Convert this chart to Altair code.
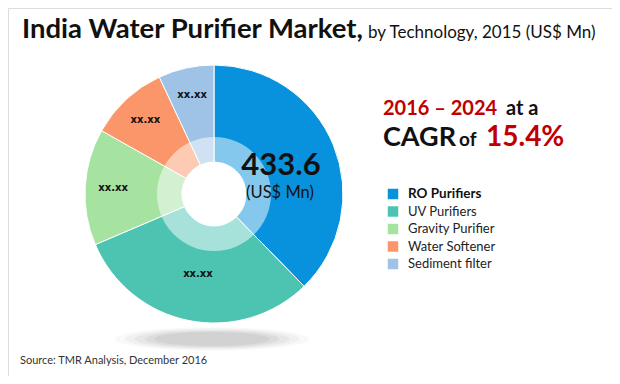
import altair as alt
import pandas as pd

# ---- data ----
segments = ["RO Purifiers", "UV Purifiers", "Gravity Purifier", "Water Softener", "Sediment filter"]
values = [163.4, 134.0, 63.2, 42.8, 30.2]
slice_labels = ["", "xx.xx", "xx.xx", "xx.xx", "xx.xx"]
colors = ["#0891DC", "#4DC4B2", "#A6E2A0", "#FA9669", "#9EC3E6"]
total_text = "433.6"
unit_text = "(US$ Mn)"
title_bold = "India Water Purifier Market,"
title_rest = "by Technology, 2015 (US$ Mn)"
cagr_period = "2016 \u2013 2024"
cagr_value = "15.4%"
source_text = "Source: TMR Analysis, December 2016"

df = pd.DataFrame({"segment": segments, "value": values, "label": slice_labels,
                   "idx": list(range(len(segments)))})
one = pd.DataFrame({"k": [0]})

FONT = "Lato"
RED = "#C00000"
CX, CY = 206, 186  # donut centre in view coordinates

color = alt.Color("segment:N", scale=alt.Scale(domain=segments, range=colors), legend=None)
theta = alt.Theta("value:Q", stack=True)
order = alt.Order("idx:Q")

# soft shadow under the donut
ellipse = "M -1 0 A 1 0.12 0 1 0 1 0 A 1 0.12 0 1 0 -1 0 Z"
shadows = []
for w, op in [(195, 0.05), (175, 0.07), (155, 0.09), (135, 0.11), (115, 0.12)]:
    shadows.append(
        alt.Chart(one).mark_point(shape=ellipse, filled=True, fill="#8a8a8a", opacity=op,
                                  size=w * w, strokeWidth=0)
        .encode(x=alt.value(CX - 2), y=alt.value(331))
    )

arcs = alt.Chart(df).mark_arc(innerRadius=32, outerRadius=129, stroke="white", strokeWidth=1).encode(
    theta=theta, color=color, order=order, x=alt.value(CX), y=alt.value(CY)
)

inner_ring = alt.Chart(one).mark_arc(innerRadius=32, outerRadius=57, theta=0, theta2=6.2832,
                                     color="white", opacity=0.5).encode(
    x=alt.value(CX), y=alt.value(CY)
)

labels = alt.Chart(df).transform_joinaggregate(
    total="sum(value)"
).transform_window(
    cum="sum(value)", sort=[alt.SortField("idx")], frame=[None, 0]
).transform_calculate(
    mid="(datum.cum - datum.value / 2) / datum.total * 2 * PI",
    lr="datum.segment == 'UV Purifiers' ? 82 : 101",
).mark_text(font="DejaVu Sans", fontWeight="bold", fontSize=10, color="#111").encode(
    theta=alt.Theta("mid:Q", scale=None, stack=False), text="label:N",
    radius=alt.Radius("lr:Q", scale=None), x=alt.value(CX), y=alt.value(CY)
)


def txt(s, x, y, size, weight="normal", col="#111", align="left", baseline="alphabetic", font=FONT):
    return alt.Chart(one).mark_text(text=s, fontSize=size, fontWeight=weight, color=col,
                                    align=align, baseline=baseline, font=font).encode(
        x=alt.value(x), y=alt.value(y))


texts = [
    txt(title_bold, 14, 30, 27.5, "bold"),
    txt(title_rest, 360, 30, 17),
    txt(cagr_period, 375, 107, 20, "bold", RED),
    txt("at a", 498, 107, 20, "bold"),
    txt("CAGR", 375, 138, 27, "bold"),
    txt("of", 451, 138, 19, "bold"),
    txt(cagr_value, 478, 138, 28, "bold", RED),
    txt(total_text, 273, 167, 31, "bold", align="center"),
    txt(unit_text, 272, 190, 16.5, align="center"),
    txt(source_text, 12, 356, 11, col="#333"),
]

# legend
leg_y = alt.Y("segment:N", sort=segments,
              scale=alt.Scale(domain=segments, range=[186, 256], padding=0), axis=None)
leg_sq = alt.Chart(df).mark_square(size=110, opacity=1).encode(
    x=alt.value(385), y=leg_y, color=color)
leg_bold = alt.Chart(df).transform_filter("datum.idx == 0").mark_text(
    align="left", baseline="middle", font=FONT, fontSize=13.5, fontWeight="bold", color="#111"
).encode(x=alt.value(400), y=leg_y, text="segment:N")
leg_norm = alt.Chart(df).transform_filter("datum.idx > 0").mark_text(
    align="left", baseline="middle", font=FONT, fontSize=13, color="#222"
).encode(x=alt.value(400), y=leg_y, text="segment:N")

chart = alt.layer(*shadows, arcs, inner_ring, labels, leg_sq, leg_bold, leg_norm, *texts).properties(
    width=604, height=368, autosize=alt.AutoSizeParams(type="fit", contains="padding"), padding=0
).configure_view(stroke=None).configure(background="white")

chart.save("out.html", embed_options={"renderer": "svg", "actions": False})
